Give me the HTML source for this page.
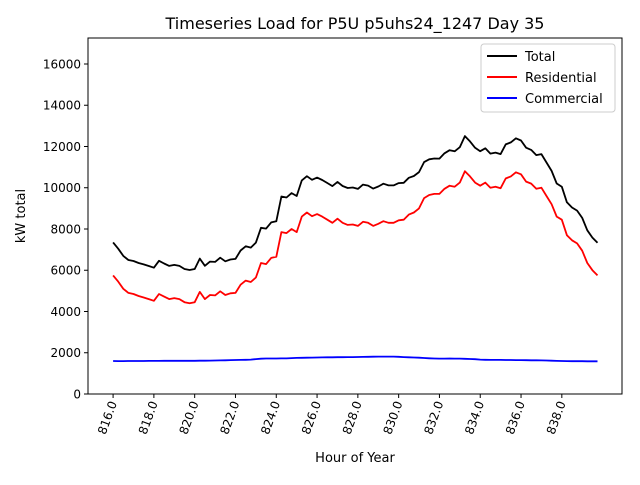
<!DOCTYPE html>
<html><head><meta charset="utf-8"><style>
body{margin:0;background:#fff;font-family:"Liberation Sans","DejaVu Sans",sans-serif}
svg text{font-family:"DejaVu Sans","Liberation Sans",sans-serif}
</style></head><body>
<svg id="chart" width="640" height="480" xmlns="http://www.w3.org/2000/svg">
<rect width="640" height="480" fill="#fff"/>
<text x="355" y="29" font-size="16" text-anchor="middle">Timeseries Load for P5U p5uhs24_1247  Day 35</text>
<g id="plot"></g>
<text x="355" y="462" font-size="13" text-anchor="middle">Hour of Year</text>
<text transform="translate(25,216) rotate(-90)" font-size="13" text-anchor="middle">kW total</text>
<g>
<rect x="481" y="44" width="134" height="68" fill="#fff" stroke="#ccc" rx="3"/>
<g><line x1="487" y1="56" x2="517" y2="56" stroke="#000" stroke-width="2"/><text x="525" y="61" font-size="13">Total</text></g>
<g><line x1="487" y1="77" x2="517" y2="77" stroke="#f00" stroke-width="2"/><text x="525" y="82" font-size="13">Residential</text></g>
<g><line x1="487" y1="98" x2="517" y2="98" stroke="#00f" stroke-width="2"/><text x="525" y="103" font-size="13">Commercial</text></g>
</g>
</svg>
<script>
const startHour = 816;
const stepHours = 0.25;
const residential = [5750,5450,5100,4900, 4850,4750,4680,4600, 4520,4850,4720,4600, 4650,4600,4450,4400, 4450,4950,4600,4800, 4780,4980,4800,4880, 4900,5300,5500,5430, 5650,6350,6300,6600, 6650,7850,7800,8000, 7850,8600,8800,8620, 8720,8600,8450,8300, 8500,8300,8200,8220, 8150,8350,8300,8150, 8250,8380,8300,8300, 8420,8450,8700,8800, 9000,9500,9650,9700, 9700,9950,10100,10050, 10250,10800,10550,10250, 10100,10250,10000,10050, 9980,10450,10550,10750, 10650,10300,10200,9950, 10000,9600,9200,8600, 8450,7700,7450,7300, 6950,6350,6000,5750];
const commercial = [1600,1595,1595,1598, 1600,1600,1602,1604, 1605,1606,1608,1610, 1610,1610,1610,1612, 1612,1614,1616,1620, 1624,1630,1636,1642, 1650,1655,1660,1670, 1690,1710,1720,1722, 1722,1724,1726,1740, 1750,1755,1760,1765, 1770,1775,1778,1780, 1782,1785,1788,1790, 1795,1800,1805,1810, 1812,1815,1815,1812, 1805,1790,1780,1770, 1760,1745,1730,1720, 1715,1718,1720,1718, 1715,1705,1695,1685, 1670,1660,1655,1655, 1652,1650,1648,1645, 1642,1640,1636,1632, 1630,1625,1615,1605, 1600,1595,1592,1590, 1588,1586,1584,1583];
const total = residential.map((r,i)=>r+commercial[i]);
const xTicks = [816,818,820,822,824,826,828,830,832,834,836,838];
const yTicks = [0,2000,4000,6000,8000,10000,12000,14000,16000];

const L=88,R=622,T=38,B=394, xMin=814.77,xMax=840.95,yMin=0,yMax=17260;
const xs=v=>L+(v-xMin)/(xMax-xMin)*(R-L);
const ys=v=>B-(v-yMin)/(yMax-yMin)*(B-T);
const NS="http://www.w3.org/2000/svg";
const g=document.getElementById('plot');
function mk(t,a){const e=document.createElementNS(NS,t);for(const k in a)e.setAttribute(k,a[k]);g.appendChild(e);return e;}
function series(arr,color,name){
  const d=arr.map((v,i)=>(i?'L':'M')+xs(startHour+i*stepHours).toFixed(1)+','+ys(v).toFixed(1)).join('');
  const p=mk('path',{d:d,fill:'none',stroke:color,'stroke-width':1.8,'stroke-linejoin':'round'});
  
  
}
series(total,'#000','total-line');
series(residential,'#f00','residential-line');
series(commercial,'#00f','commercial-line');
const fr=mk('rect',{x:L,y:T,width:R-L,height:B-T,fill:'none',stroke:'#000','stroke-width':1});


xTicks.forEach(v=>{
  const x=xs(v);
  const t=mk('line',{x1:x,y1:B,x2:x,y2:B+4,stroke:'#000'});
  
  
  const lb=mk('text',{x:0,y:0,'font-size':12,'text-anchor':'end',transform:`translate(${x+4},${B+9}) rotate(-70)`});
  lb.textContent=v.toFixed(1);
  
  
});
yTicks.forEach(v=>{
  const y=ys(v);
  const t=mk('line',{x1:L-4,y1:y,x2:L,y2:y,stroke:'#000'});
  
  
  const lb=mk('text',{x:L-7,y:y+4.5,'font-size':12,'text-anchor':'end'});
  lb.textContent=v;
  
  
});
</script>
</body></html>
